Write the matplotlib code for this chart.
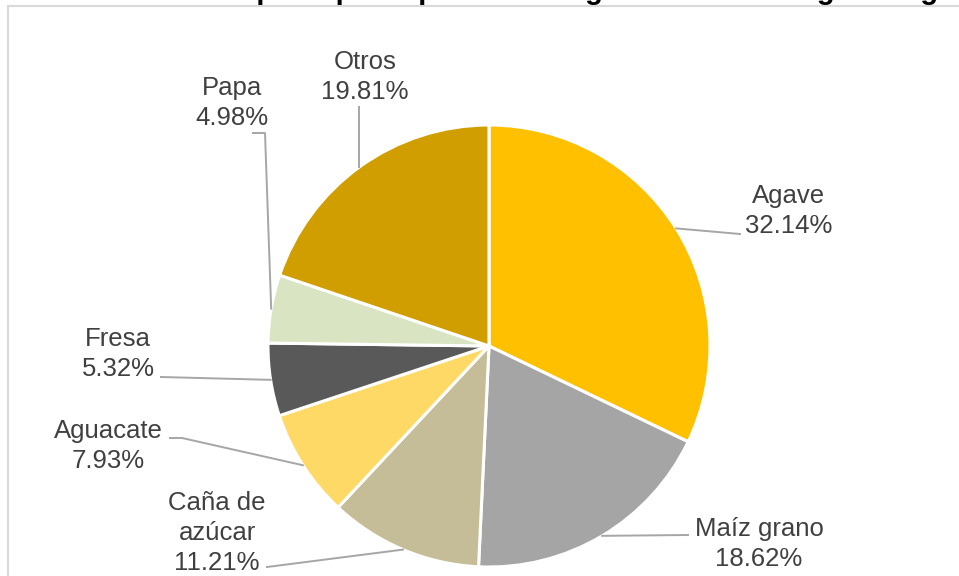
import numpy as np
import matplotlib.pyplot as plt
from matplotlib.patches import Rectangle

plt.rcParams['font.family'] = ['Liberation Sans', 'DejaVu Sans']

# Datos
productos = ['Agave', 'Maíz grano', 'Caña de\nazúcar', 'Aguacate', 'Fresa', 'Papa', 'Otros']
porcentajes = [32.14, 18.62, 11.21, 7.93, 5.32, 4.98, 19.81]
colores = ['#FFC000', '#A5A5A5', '#C4BD97', '#FFD966', '#595959', '#D8E4C2', '#D19E00']

titulo = 'Distribución de los principales productos agrícolas de la Región Vega'

# Posiciones de etiquetas (pixeles, y hacia abajo): centro del texto y codo de la linea guia
etiquetas_xy = [(789, 211), (759, 544), (217, 533), (108, 446), (118, 354), (232, 103), (365, 77)]
codos = [[(740, 234)], [(688, 535)], [(267, 567)], [(170, 438), (182, 438)],
         [(161, 377)], [(253, 133), (265, 133)], [(359, 107)]]

W, H = 959, 576
cx, cy, r = 489, 346, 221

fig = plt.figure(figsize=(W / 100, H / 100), dpi=100)
ax = fig.add_axes([0, 0, 1, 1])

ax.pie(porcentajes, colors=colores, startangle=90, counterclock=False,
       center=(cx, H - cy), radius=r,
       wedgeprops=dict(edgecolor='white', linewidth=2.2))
ax.set_xlim(0, W)
ax.set_ylim(0, H)
ax.set_aspect('equal')
ax.axis('off')

# Marco del grafico
ax.add_patch(Rectangle((8, -10), W, H - 6 + 10, fill=False, edgecolor='#D9D9D9',
                       linewidth=1.5, zorder=0))

# Etiquetas y lineas guia
acum = 0
for i, (nombre, p) in enumerate(zip(productos, porcentajes)):
    medio = (acum + p / 2) / sum(porcentajes) * 360
    acum += p
    px = cx + r * np.sin(np.radians(medio))
    py = cy - r * np.cos(np.radians(medio))
    if nombre == 'Otros':
        ex = codos[i][-1][0]
        px = ex
        py = cy - np.sqrt(r ** 2 - (ex - cx) ** 2)
    puntos = codos[i] + [(px, py)]
    xs = [q[0] for q in puntos]
    ys = [H - q[1] for q in puntos]
    ax.plot(xs, ys, color='#A6A6A6', linewidth=1.4, zorder=3)
    tx, ty = etiquetas_xy[i]
    ax.text(tx, H - ty, f'{nombre}\n{p:.2f}%', ha='center', va='center',
            fontsize=18.5, color='#404040', linespacing=1.3, zorder=4)

# Titulo (recortado en la parte superior)
fig.text(0.49, 1 + 1 / H, titulo, ha='center', va='baseline',
         fontsize=21, fontweight='bold', color='black')

fig.savefig('out.png', dpi=100)
